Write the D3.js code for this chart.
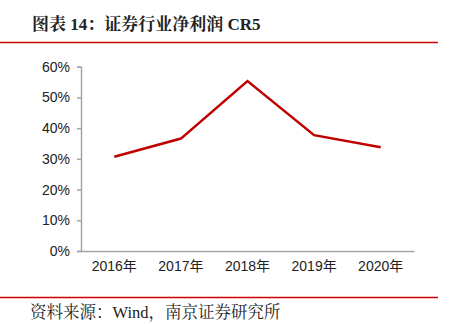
<!DOCTYPE html>
<html><head><meta charset="utf-8">
<script src="https://cdn.jsdelivr.net/npm/d3@7"></script>
<style>body{margin:0;background:#fff;}svg{display:block;}</style>
</head><body>
<svg id="c" width="451" height="324"></svg>
<script>
const title = "图表 14：证券行业净利润 CR5";
const source = "资料来源：Wind，南京证券研究所";
const categories = ["2016年","2017年","2018年","2019年","2020年"];
const values = [0.307, 0.366, 0.553, 0.377, 0.338];
const yTicks = [0, 0.1, 0.2, 0.3, 0.4, 0.5, 0.6];

const svg = d3.select("#c");
const serif = "'Times New Roman','Liberation Serif','Noto Serif CJK SC','Noto Sans CJK SC',serif";
const sans = "Arial,'Liberation Sans','Noto Sans CJK SC',sans-serif";

svg.append("text").attr("x", 32).attr("y", 30)
  .attr("font-family", serif).attr("font-weight", "bold").attr("font-size", 17)
  .attr("fill", "#222").text(title);
svg.append("line").attr("x1", 0).attr("x2", 438).attr("y1", 42.5).attr("y2", 42.5)
  .attr("stroke", "#d00000").attr("stroke-width", 1.5);
svg.append("line").attr("x1", 0).attr("x2", 438).attr("y1", 297.5).attr("y2", 297.5)
  .attr("stroke", "#d00000").attr("stroke-width", 1.5);
svg.append("text").attr("x", 30).attr("y", 318)
  .attr("font-family", serif).attr("font-size", 16.5)
  .attr("fill", "#222").text(source);

const x = d3.scaleBand().domain(categories).range([81, 414]);
const y = d3.scaleLinear().domain([0, 0.6]).range([251, 66.7]);

const gy = svg.append("g").attr("transform", "translate(81,0)")
  .call(d3.axisLeft(y).tickValues(yTicks).tickFormat(d3.format(".0%")).tickSizeOuter(0).tickSize(4).tickPadding(7));
gy.select(".domain").attr("stroke", "#a6a6a6").attr("stroke-width", 1.5);
gy.selectAll(".tick line").attr("stroke", "#a6a6a6").attr("stroke-width", 1.5);
gy.selectAll(".tick text").attr("font-family", sans).attr("font-size", 14).attr("fill", "#222");

const gx = svg.append("g").attr("transform", "translate(0,251)")
  .call(d3.axisBottom(x).tickSize(0).tickPadding(10));
gx.select(".domain").attr("stroke", "#a6a6a6").attr("stroke-width", 1.5);
gx.selectAll(".tick text").attr("font-family", sans).attr("font-size", 14).attr("fill", "#222");

const line = d3.line().x((d, i) => x(categories[i]) + x.bandwidth() / 2).y(d => y(d));
svg.append("path").datum(values).attr("d", line)
  .attr("fill", "none").attr("stroke", "#c00000").attr("stroke-width", 2.5);
</script>
</body></html>
